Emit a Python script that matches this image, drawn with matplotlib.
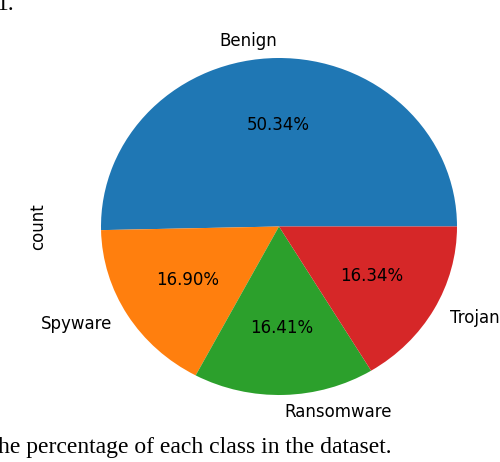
import matplotlib.pyplot as plt

# class shares (percent of dataset)
classes = ["Benign", "Spyware", "Ransomware", "Trojan"]
shares = [50.344, 16.902, 16.412, 16.342]
colors = ["#1f77b4", "#ff7f0e", "#2ca02c", "#d62728"]

fig = plt.figure(figsize=(5.0, 4.62), dpi=100)
# axes box matches the pie's extent (pie looks slightly stretched horizontally)
ax = fig.add_axes([101 / 500, 1 - 395 / 462, 356 / 500, 337 / 462])
ax.pie(shares, labels=classes, colors=colors, autopct="%.2f%%",
       textprops={"fontsize": 12})
ax.set_aspect("auto")
ax.set_xlim(-1, 1)
ax.set_ylim(-1, 1)
ax.set_ylabel("count", fontsize=12)
ax.yaxis.set_label_coords(-0.15, 0.5)

# bits of the surrounding paper caption
fig.text(-3 / 500, 1 - 10 / 462, "1.", family="Liberation Serif", fontsize=17,
         va="baseline")
fig.text(-2 / 500, 1 - 453 / 462, "he percentage of each class in the dataset.",
         family="Liberation Serif", fontsize=17, va="baseline")

fig.savefig("out.png", dpi=100)
